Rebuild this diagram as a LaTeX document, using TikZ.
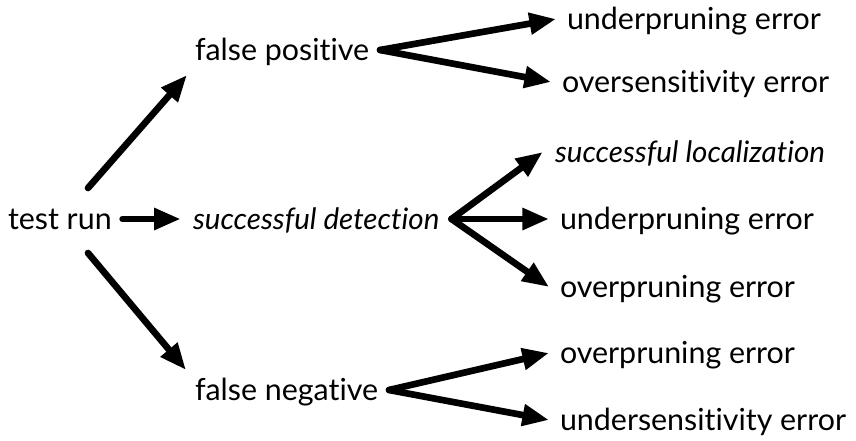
\documentclass[tikz,border=0pt]{standalone}
\usepackage{fontspec}
\setmainfont{Lato}[Ligatures=NoCommon]
\usepackage{tikz}
\usetikzlibrary{arrows.meta,calc}

\begin{document}
\begin{tikzpicture}[
    x=0.75pt, y=-0.75pt,
    item/.style={
        anchor=text, inner xsep=8pt, inner ysep=0pt,
        text height=15pt, text depth=0pt,
        font=\fontsize{22.8}{27}\selectfont
    },
    emph/.style={item, inner xsep=9pt, font=\fontsize{22.2}{27}\selectfont\itshape},
    arrow/.style={-{Triangle[length=20pt, width=15.5pt]}, line width=5pt, line cap=round}
]
\useasboundingbox (0,0) rectangle (856,440);

\node[item] (run) at (8,229) {test run};
\node[item] (falsepos) at (195,60) {false positive};
\node[emph] (detect) at (193,229) {successful detection};
\node[item] (falseneg) at (195,400) {false negative};

\node[item] (fpunder) at (567,29) {underpruning error};
\node[item] (fpover) at (562,92) {oversensitivity error};
\node[emph] (sdloc) at (555,162) {successful localization};
\node[item] (sdunder) at (560,229) {underpruning error};
\node[item] (sdover) at (560,297) {overpruning error};
\node[item] (fnover) at (560,363) {overpruning error};
\node[item] (fnunder) at (560,430) {undersensitivity error};

% first level
\draw[arrow] ($(run.text)+(80,-41)$) -- ($(falsepos.text)+(-8,15)$);
\draw[arrow] (run.east) -- (detect.west);
\draw[arrow] ($(run.text)+(80,24)$) -- ($(falseneg.text)+(-9,-30)$);

% second level
\draw[arrow] (falsepos.east) -- (fpunder.west);
\draw[arrow] (falsepos.east) -- (fpover.west);
\draw[arrow] (detect.east) -- (sdloc.west);
\draw[arrow] (detect.east) -- (sdunder.west);
\draw[arrow] (detect.east) -- (sdover.west);
\draw[arrow] (falseneg.east) -- (fnover.west);
\draw[arrow] (falseneg.east) -- (fnunder.west);
\end{tikzpicture}
\end{document}
